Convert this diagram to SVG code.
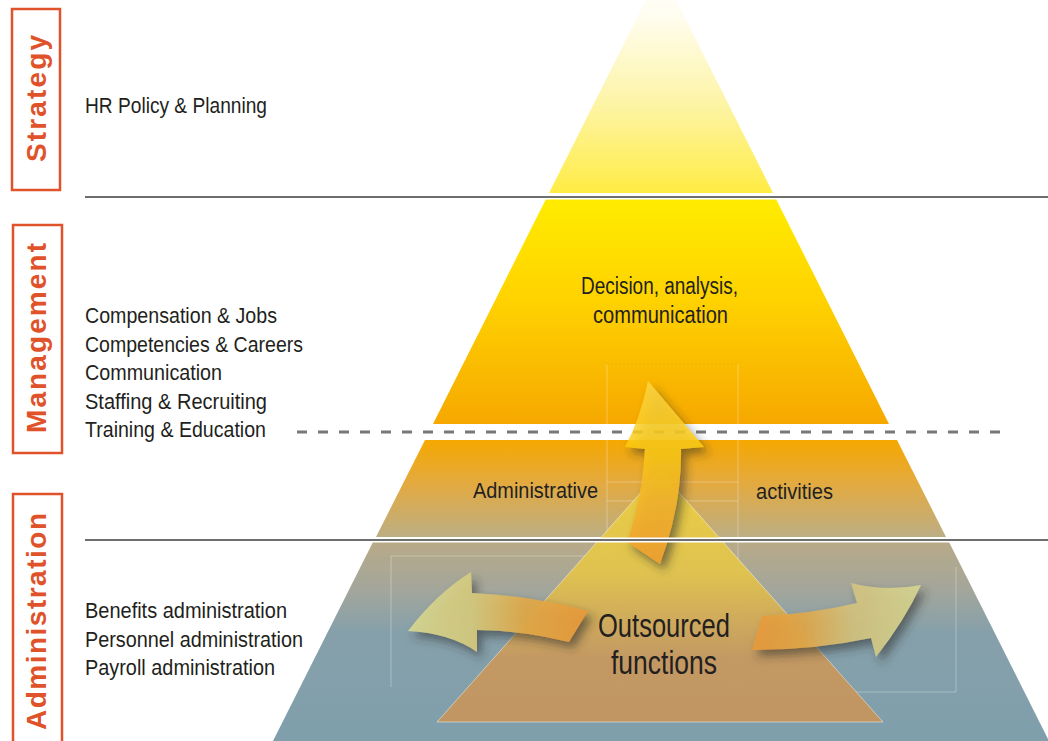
<svg xmlns="http://www.w3.org/2000/svg" width="1048" height="741" viewBox="0 0 1048 741">
<defs>
<style>
.lbl{font-family:"Liberation Sans Narrow","Liberation Sans",Arial,sans-serif;fill:#231f20;}
.side{font-family:"Liberation Sans",Arial,sans-serif;font-weight:bold;fill:#e0522a;font-size:28px;}
.box{fill:none;stroke:#e0522a;stroke-width:2.5;}
.sep{stroke:#6e6e6e;stroke-width:2;}
.sepw{stroke:#ffffff;stroke-width:5;}
.faint{fill:none;stroke:#ffffff;stroke-opacity:0.3;stroke-width:1;}
</style>
<linearGradient id="gStrat" gradientUnits="userSpaceOnUse" x1="0" y1="-30" x2="0" y2="193">
<stop offset="0" stop-color="#ffffff"/><stop offset="0.2" stop-color="#fffdf0"/><stop offset="0.6" stop-color="#fdf4a6"/><stop offset="1" stop-color="#ffec44"/>
</linearGradient>
<linearGradient id="gMgmt" gradientUnits="userSpaceOnUse" x1="0" y1="199" x2="0" y2="424">
<stop offset="0" stop-color="#ffec00"/><stop offset="0.45" stop-color="#ffd200"/><stop offset="1" stop-color="#f6a800"/>
</linearGradient>
<linearGradient id="gAct" gradientUnits="userSpaceOnUse" x1="0" y1="440" x2="0" y2="537">
<stop offset="0" stop-color="#f5a800"/><stop offset="0.45" stop-color="#e3aa40"/><stop offset="1" stop-color="#bcae84"/>
</linearGradient>
<linearGradient id="gBase" gradientUnits="userSpaceOnUse" x1="0" y1="542" x2="0" y2="741">
<stop offset="0" stop-color="#b8aa88"/><stop offset="0.25" stop-color="#a2a69c"/><stop offset="0.45" stop-color="#86a0aa"/><stop offset="1" stop-color="#7f9fac"/>
</linearGradient>
<linearGradient id="gInner" gradientUnits="userSpaceOnUse" x1="0" y1="471" x2="0" y2="722">
<stop offset="0" stop-color="#ecd040"/><stop offset="0.4" stop-color="#e2c44c"/><stop offset="0.6" stop-color="#d2aa58"/><stop offset="0.75" stop-color="#c6985f"/><stop offset="1" stop-color="#c4955f"/>
</linearGradient>
<linearGradient id="gUp" gradientUnits="userSpaceOnUse" x1="0" y1="381" x2="0" y2="564">
<stop offset="0" stop-color="#fdd850" stop-opacity="0.75"/><stop offset="0.35" stop-color="#fccc10" stop-opacity="0.85"/><stop offset="0.65" stop-color="#f3b42a" stop-opacity="0.9"/><stop offset="1" stop-color="#eea030" stop-opacity="0.95"/>
</linearGradient>
<linearGradient id="gLeft" gradientUnits="userSpaceOnUse" x1="408" y1="0" x2="588" y2="0">
<stop offset="0" stop-color="#d8d890" stop-opacity="0.9"/><stop offset="0.35" stop-color="#d6cc80" stop-opacity="0.9"/><stop offset="0.65" stop-color="#e2aa48" stop-opacity="0.9"/><stop offset="1" stop-color="#e6983a" stop-opacity="0.95"/>
</linearGradient>
<linearGradient id="gRight" gradientUnits="userSpaceOnUse" x1="752" y1="0" x2="921" y2="0">
<stop offset="0" stop-color="#e6983a" stop-opacity="0.95"/><stop offset="0.3" stop-color="#e2a848" stop-opacity="0.9"/><stop offset="0.6" stop-color="#d4c480" stop-opacity="0.9"/><stop offset="1" stop-color="#d6d692" stop-opacity="0.9"/>
</linearGradient>
<filter id="shadow" x="-30%" y="-30%" width="170%" height="170%">
<feDropShadow dx="5" dy="6" stdDeviation="5" flood-color="#2a2a2a" flood-opacity="0.6"/>
</filter>
</defs>

<g id="pyramid">
<polygon id="seg-strategy" points="661,-30 773,193 549,193" fill="url(#gStrat)"/>
<polygon id="seg-management" points="546,199 776,199 889,424 433,424" fill="url(#gMgmt)"/>
<polygon id="seg-activities" points="425,440 897,440 946,537 376,537" fill="url(#gAct)"/>
<polygon id="seg-administration" points="373,542 949,542 1049,741 273,741" fill="url(#gBase)"/>
</g>

<g id="faint-frames">
<path class="faint" d="M607,364 V556 M738,364 V692 M607,482 H738 M607,501 H738"/>
<path d="M607,364 H738" fill="none" stroke="#f0a000" stroke-opacity="0.6" stroke-width="1" stroke-dasharray="2 2"/>
<path class="faint" d="M391,687 V556 H607"/>
<path class="faint" d="M623,687 V597 H734 V692 H956 V567"/>
</g>

<g id="dashed-divider">
<line x1="297" y1="432" x2="1002" y2="432" stroke="#777777" stroke-width="3" stroke-dasharray="10 11"/>
</g>

<g id="outsourced">
<polygon points="660,471 883,722 437,722" fill="url(#gInner)" fill-opacity="0.95" stroke="#ffffff" stroke-opacity="0.45" stroke-width="1"/>
</g>

<g id="connectors">
<path id="arrow-up" filter="url(#shadow)" fill="url(#gUp)" d="M648,381 L704,447 L681,449 Q682,505 660,564 L627,542 Q642,500 645,449 L625,447 Q640,420 648,381 Z"/>
<path id="arrow-left" filter="url(#shadow)" fill="url(#gLeft)" d="M408,631 Q436,594 471,572 L472,593 Q535,596 588,611 L569,642 Q520,630 477,630 L477,652 Q450,633 408,631 Z"/>
<path id="arrow-right" filter="url(#shadow)" fill="url(#gRight)" d="M752,650 L762,616 Q810,614 857,603 L851,583 Q885,592 921,585 Q905,620 876,657 L871,638 Q815,650 752,650 Z"/>
</g>

<g id="dividers">
<line class="sepw" x1="85" y1="197" x2="1048" y2="197"/>
<line class="sep" x1="85" y1="197" x2="1048" y2="197"/>
<line class="sepw" x1="85" y1="540" x2="1048" y2="540"/>
<line class="sep" x1="85" y1="540" x2="1048" y2="540"/>
</g>

<g id="strategy-label">
<rect class="box" x="12" y="9" width="48" height="181"/>
<text class="side" transform="translate(46,162) rotate(-90)" textLength="127" lengthAdjust="spacing">Strategy</text>
</g>
<g id="management-label">
<rect class="box" x="13" y="225" width="49" height="228"/>
<text class="side" transform="translate(46,433) rotate(-90)" textLength="190" lengthAdjust="spacing">Management</text>
</g>
<g id="administration-label">
<rect class="box" x="13" y="494" width="49" height="262"/>
<text class="side" transform="translate(46,730) rotate(-90)" textLength="217" lengthAdjust="spacing">Administration</text>
</g>

<g id="strategy-items">
<text class="lbl" x="85" y="113" font-size="22" textLength="182" lengthAdjust="spacingAndGlyphs">HR Policy &amp; Planning</text>
</g>
<g id="management-items" font-size="22">
<text class="lbl" x="85" y="323" textLength="192" lengthAdjust="spacingAndGlyphs">Compensation &amp; Jobs</text>
<text class="lbl" x="85" y="352" textLength="218" lengthAdjust="spacingAndGlyphs">Competencies &amp; Careers</text>
<text class="lbl" x="85" y="380" textLength="137" lengthAdjust="spacingAndGlyphs">Communication</text>
<text class="lbl" x="85" y="409" textLength="182" lengthAdjust="spacingAndGlyphs">Staffing &amp; Recruiting</text>
<text class="lbl" x="85" y="437" textLength="181" lengthAdjust="spacingAndGlyphs">Training &amp; Education</text>
</g>
<g id="administration-items" font-size="22">
<text class="lbl" x="85" y="618" textLength="202" lengthAdjust="spacingAndGlyphs">Benefits administration</text>
<text class="lbl" x="85" y="647" textLength="218" lengthAdjust="spacingAndGlyphs">Personnel administration</text>
<text class="lbl" x="85" y="675" textLength="190" lengthAdjust="spacingAndGlyphs">Payroll administration</text>
</g>

<g id="decision-node">
<text class="lbl" x="581" y="294" font-size="23" textLength="157" lengthAdjust="spacingAndGlyphs">Decision, analysis,</text>
<text class="lbl" x="593" y="323" font-size="23" textLength="135" lengthAdjust="spacingAndGlyphs">communication</text>
</g>
<g id="activities-node">
<text class="lbl" x="473" y="498" font-size="22" textLength="125" lengthAdjust="spacingAndGlyphs">Administrative</text>
<text class="lbl" x="756" y="499" font-size="22" textLength="77" lengthAdjust="spacingAndGlyphs">activities</text>
</g>
<g id="outsourced-node">
<text class="lbl" x="598" y="637" font-size="33" textLength="132" lengthAdjust="spacingAndGlyphs">Outsourced</text>
<text class="lbl" x="611" y="674" font-size="33" textLength="106" lengthAdjust="spacingAndGlyphs">functions</text>
</g>
</svg>
